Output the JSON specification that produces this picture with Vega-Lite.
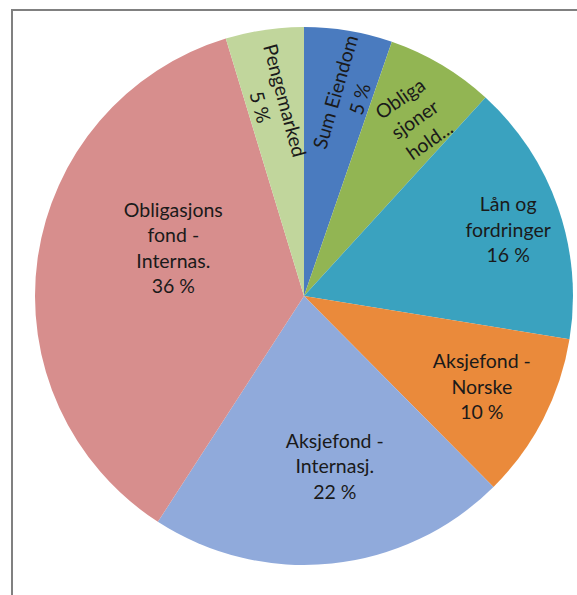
{
  "$schema": "https://vega.github.io/schema/vega-lite/v6.json",
  "width": 584,
  "height": 600,
  "padding": {"left": 12, "top": 10, "right": 0, "bottom": 0},
  "autosize": {"type": "none"},
  "background": "white",
  "view": {"stroke": "#808080", "strokeWidth": 2, "style": "cell"},
  "config": {"view": {"stroke": "#808080", "strokeWidth": 2}, "style": {"view": {"stroke": "#808080", "strokeWidth": 2}}},
  "data": {
    "values": [
      {"order": 1, "category": "Sum Eiendom", "value": 5.3, "label": "Sum Eiendom\n5 %"},
      {"order": 2, "category": "Obligasjoner hold", "value": 6.5, "label": "Obliga\nsjoner\nhold..."},
      {"order": 3, "category": "Lån og fordringer", "value": 15.8, "label": "Lån og\nfordringer\n16 %"},
      {"order": 4, "category": "Aksjefond - Norske", "value": 10.0, "label": "Aksjefond -\nNorske\n10 %"},
      {"order": 5, "category": "Aksjefond - Internasj.", "value": 21.6, "label": "Aksjefond -\nInternasj.\n22 %"},
      {"order": 6, "category": "Obligasjons fond - Internas.", "value": 36.2, "label": "Obligasjons\nfond -\nInternas.\n36 %"},
      {"order": 7, "category": "Pengemarked", "value": 4.7, "label": "Pengemarked\n5 %"}
    ]
  },
  "encoding": {
    "theta": {"field": "value", "type": "quantitative", "stack": true},
    "order": {"field": "order", "type": "ordinal"}
  },
  "layer": [
    {
      "mark": {"type": "arc", "outerRadius": 269, "yOffset": -14},
      "encoding": {
        "color": {
          "field": "category",
          "type": "nominal",
          "sort": {"field": "order"},
          "scale": {
            "domain": ["Sum Eiendom", "Obligasjoner hold", "Lån og fordringer", "Aksjefond - Norske", "Aksjefond - Internasj.", "Obligasjons fond - Internas.", "Pengemarked"],
            "range": ["#4a7bbf", "#92b553", "#3aa2bf", "#ea8a3b", "#90aadb", "#d78e8d", "#c1d69c"]
          },
          "legend": null
        }
      }
    },
    {
      "mark": {"type": "text", "font": "Lato", "fontSize": 19.5, "fill": "#1a1a1a", "lineBreak": "\n", "lineHeight": 25.5, "align": "center", "baseline": "middle", "dy": -12.75, "radius": 203, "angle": 286, "xOffset": 11, "yOffset": -14},
      "encoding": {"text": {"condition": {"test": "datum.category === 'Sum Eiendom'", "field": "label"}, "value": ""}}
    },
    {
      "mark": {"type": "text", "font": "Lato", "fontSize": 19.5, "fill": "#1a1a1a", "lineBreak": "\n", "lineHeight": 25.5, "align": "center", "baseline": "middle", "dy": -25.5, "radius": 208, "angle": 325, "xOffset": 5, "yOffset": -11},
      "encoding": {"text": {"condition": {"test": "datum.category === 'Obligasjoner hold'", "field": "label"}, "value": ""}}
    },
    {
      "mark": {"type": "text", "font": "Lato", "fontSize": 19.5, "fill": "#1a1a1a", "lineBreak": "\n", "lineHeight": 25.5, "align": "center", "baseline": "middle", "dy": -25.5, "radius": 214, "xOffset": 2, "yOffset": -9},
      "encoding": {"text": {"condition": {"test": "datum.category === 'Lån og fordringer'", "field": "label"}, "value": ""}}
    },
    {
      "mark": {"type": "text", "font": "Lato", "fontSize": 19.5, "fill": "#1a1a1a", "lineBreak": "\n", "lineHeight": 25.5, "align": "center", "baseline": "middle", "dy": -25.5, "radius": 200, "yOffset": -14},
      "encoding": {"text": {"condition": {"test": "datum.category === 'Aksjefond - Norske'", "field": "label"}, "value": ""}}
    },
    {
      "mark": {"type": "text", "font": "Lato", "fontSize": 19.5, "fill": "#1a1a1a", "lineBreak": "\n", "lineHeight": 25.5, "align": "center", "baseline": "middle", "dy": -25.5, "radius": 172, "xOffset": 13, "yOffset": -14},
      "encoding": {"text": {"condition": {"test": "datum.category === 'Aksjefond - Internasj.'", "field": "label"}, "value": ""}}
    },
    {
      "mark": {"type": "text", "font": "Lato", "fontSize": 19.5, "fill": "#1a1a1a", "lineBreak": "\n", "lineHeight": 25.5, "align": "center", "baseline": "middle", "dy": -38.25, "radius": 136, "xOffset": 4, "yOffset": -42},
      "encoding": {"text": {"condition": {"test": "datum.category === 'Obligasjons fond - Internas.'", "field": "label"}, "value": ""}}
    },
    {
      "mark": {"type": "text", "font": "Lato", "fontSize": 19.5, "fill": "#1a1a1a", "lineBreak": "\n", "lineHeight": 25.5, "align": "center", "baseline": "middle", "dy": -12.75, "radius": 194, "angle": 75, "xOffset": -4, "yOffset": -14},
      "encoding": {"text": {"condition": {"test": "datum.category === 'Pengemarked'", "field": "label"}, "value": ""}}
    }
  ]
}
